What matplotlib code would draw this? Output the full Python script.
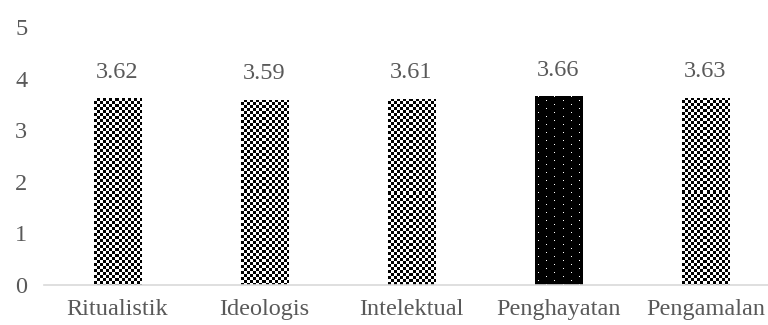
import matplotlib.pyplot as plt
import numpy as np

categories = ["Ritualistik", "Ideologis", "Intelektual", "Penghayatan", "Pengamalan"]
values = [3.62, 3.59, 3.61, 3.66, 3.63]
styles = ["checker", "checker", "checker", "dots", "checker"]

TEXT = "#595959"
plt.rcParams['font.family'] = ['Liberation Serif', 'DejaVu Serif']


def pattern(kind, w_px, h_px):
    # pixel-level fill for one bar, row 0 is the top
    yy, xx = np.mgrid[0:h_px, 0:w_px]
    if kind == "checker":
        return ((xx // 3 + yy // 3) % 2).astype(float)
    img = np.zeros((h_px, w_px))
    row = yy // 4
    shift = (row % 2) * 8
    img[(yy % 4 == 0) & ((xx + shift) % 16 == 3)] = 1.0
    return img


def main():
    fig = plt.figure(figsize=(7.68, 3.25), dpi=100)
    # plot area runs a little past the right edge of the canvas
    ax = fig.add_axes([44 / 768, 1 - 285 / 325, 735 / 768, 258 / 325])
    x = np.arange(len(categories))
    bars = ax.bar(x, values, width=0.32, color="none", edgecolor="none")
    ax.set_xlim(-0.5, len(categories) - 0.5)
    ax.set_ylim(0, 5)

    fig.canvas.draw()
    for b, kind, v in zip(bars, styles, values):
        x0, y0 = b.get_x(), 0
        x1, y1 = x0 + b.get_width(), b.get_height()
        p0 = ax.transData.transform((x0, y0))
        p1 = ax.transData.transform((x1, y1))
        w_px = int(round(p1[0] - p0[0]))
        h_px = int(round(p1[1] - p0[1]))
        im = ax.imshow(pattern(kind, w_px, h_px), cmap="gray_r", vmin=0, vmax=1,
                       extent=(x0, x1, y0, y1), interpolation="nearest",
                       aspect="auto", zorder=2)
        if kind == "dots":
            im.set_cmap("gray")
        im.set_clip_path(b)
        ax.annotate(f"{v:.2f}", (b.get_x() + b.get_width() / 2, v),
                    xytext=(0, 11), textcoords="offset points",
                    ha="center", va="bottom", fontsize=17.5, color=TEXT)

    ax.set_xlim(-0.5, len(categories) - 0.5)
    ax.set_ylim(0, 5)
    ax.set_xticks(x)
    ax.set_xticklabels(categories)
    ax.set_yticks(range(6))
    ax.tick_params(length=0, labelsize=17.5, colors=TEXT)
    ax.tick_params(axis="x", pad=10)
    ax.tick_params(axis="y", pad=12)
    for s in ["top", "right", "left"]:
        ax.spines[s].set_visible(False)
    ax.spines["bottom"].set_color("#d9d9d9")
    ax.spines["bottom"].set_linewidth(1.2)

    fig.savefig("out.png", dpi=100)


if __name__ == '__main__':
    main()
